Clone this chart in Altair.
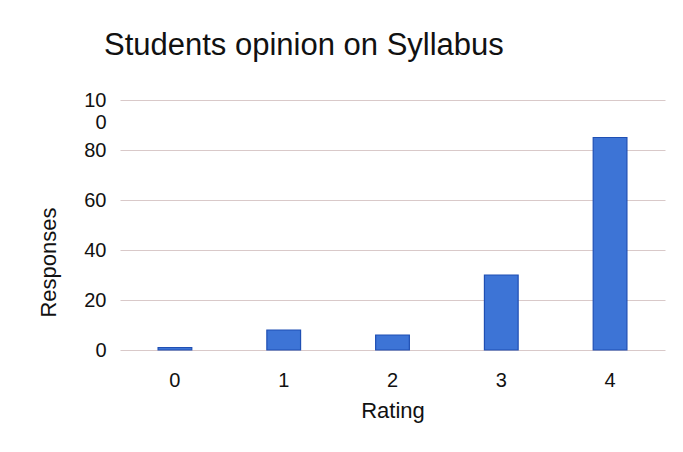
import altair as alt
import pandas as pd

ratings = ["0", "1", "2", "3", "4"]
responses = [1, 8, 6, 30, 85]
y_ticks = [0, 20, 40, 60, 80, 100]

df = pd.DataFrame({"Rating": ratings, "Responses": responses})

font = "Liberation Sans"

chart = alt.Chart(df).mark_bar(
    color="#3d74d6", stroke="#1f4fb3", strokeWidth=1.2
).encode(
    x=alt.X("Rating:N", sort=ratings, title="Rating",
            scale=alt.Scale(paddingInner=0.69, paddingOuter=0.35),
            axis=alt.Axis(labelAngle=0, ticks=False, domain=False,
                          labelPadding=20, titlePadding=10,
                          labelFontSize=20, titleFontSize=22,
                          labelFont=font, titleFont=font,
                          labelColor="#111", titleColor="#111",
                          titleFontWeight="normal")),
    y=alt.Y("Responses:Q", title="Responses",
            scale=alt.Scale(domain=[0, 100]),
            axis=alt.Axis(values=y_ticks, ticks=False, domain=False,
                          labelExpr="datum.value == 100 ? ['10', '0'] : datum.label",
                          labelPadding=14, titleX=-60, titleY=162,
                          labelFontSize=20, titleFontSize=22,
                          labelFont=font, titleFont=font,
                          labelColor="#111", titleColor="#111",
                          titleFontWeight="normal",
                          gridColor="#d9c9c9", gridWidth=1)),
).properties(
    width=545, height=250,
    title=alt.TitleParams("Students opinion on Syllabus", anchor="start",
                          frame="group", dx=-16, offset=28,
                          fontSize=31, font=font, fontWeight="normal",
                          color="#111"),
    autosize=alt.AutoSizeParams(type="none"),
    padding={"left": 112, "top": 92, "right": 6, "bottom": 90},
).configure(background="white").configure_view(stroke=None)

chart.save("out.html", embed_options={"renderer": "svg", "actions": False})
